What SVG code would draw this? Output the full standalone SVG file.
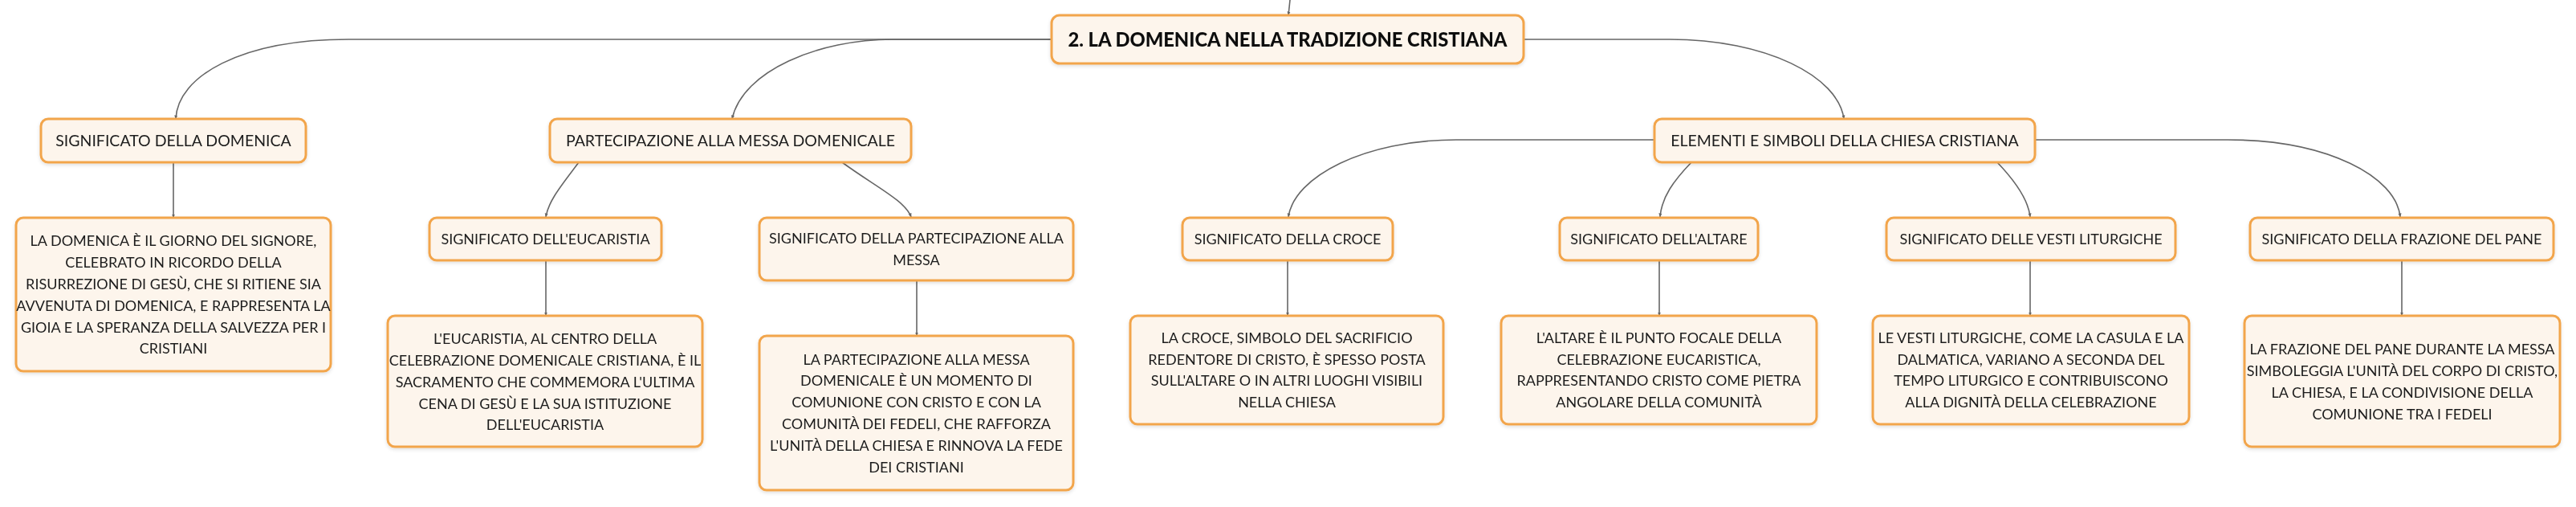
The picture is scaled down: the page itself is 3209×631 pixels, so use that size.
<svg xmlns="http://www.w3.org/2000/svg" width="3209" height="631" viewBox="0 0 3209 631">
<style>
.box{fill:#fdf5ec;stroke:#f2a54c;stroke-width:3}
.t{font-family:Lato,"Noto Sans","Liberation Sans",sans-serif;font-size:18px;fill:#1d1d1d;text-anchor:middle}
.t1{font-family:Lato,"Noto Sans","Liberation Sans",sans-serif;font-size:19.5px;fill:#1d1d1d;text-anchor:middle}
.tb{font-family:Lato,"Noto Sans","Liberation Sans",sans-serif;font-size:25px;font-weight:900;fill:#111;text-anchor:middle}
.c{fill:none;stroke:#666;stroke-width:1.6;marker-end:url(#a)}
</style>
<defs>
<marker id="a" viewBox="0 0 10 10" refX="9" refY="5" markerWidth="5" markerHeight="5" markerUnits="userSpaceOnUse" orient="auto"><path d="M0,1 L10,5 L0,9 z" fill="#666"/></marker>
<filter id="s" x="-5%" y="-10%" width="110%" height="125%"><feDropShadow dx="0" dy="2" stdDeviation="2" flood-color="#000" flood-opacity="0.12"/></filter>
</defs>
<rect width="3209" height="631" fill="#fff"/>
<g id="connectors">
<path class="c" d="M1607,0 L1605,19"/>
<path class="c" d="M1310,49 H434 C300,49 221,95 219,148"/>
<path class="c" d="M1310,49 H1112 C1020,49 925,88 912,148"/>
<path class="c" d="M1898,49 H2080 C2200,49 2290,95 2297,148"/>
<path class="c" d="M216,202 V271"/>
<path class="c" d="M721,202 C700,230 683,250 680,270"/>
<path class="c" d="M1049,202 C1090,232 1128,250 1135,270"/>
<path class="c" d="M680,324 V393"/>
<path class="c" d="M1142,349 V418"/>
<path class="c" d="M2061,174 H1814 C1700,174 1612,220 1605,270"/>
<path class="c" d="M2107,202 C2085,225 2070,245 2068,270"/>
<path class="c" d="M2488,202 C2510,225 2527,250 2529,270"/>
<path class="c" d="M2535,174 H2775 C2900,174 2985,220 2990,270"/>
<path class="c" d="M1604,324 V393"/>
<path class="c" d="M2067,324 V393"/>
<path class="c" d="M2529,324 V393"/>
<path class="c" d="M2992,324 V393"/>
</g>
<g id="root" filter="url(#s)">
<rect class="box" x="1310" y="19" width="588" height="60" rx="10"/>
<text class="tb" x="1604" y="58" textLength="547" lengthAdjust="spacingAndGlyphs">2. LA DOMENICA NELLA TRADIZIONE CRISTIANA</text>
</g>
<g id="n-domenica" filter="url(#s)">
<rect class="box" x="51" y="148" width="330" height="54" rx="9"/>
<text class="t1" x="216" y="182">SIGNIFICATO DELLA DOMENICA</text>
</g>
<g id="n-partecipazione" filter="url(#s)">
<rect class="box" x="685" y="148" width="450" height="54" rx="9"/>
<text class="t1" x="910" y="182">PARTECIPAZIONE ALLA MESSA DOMENICALE</text>
</g>
<g id="n-elementi" filter="url(#s)">
<rect class="box" x="2061" y="148" width="474" height="54" rx="9"/>
<text class="t1" x="2298" y="182">ELEMENTI E SIMBOLI DELLA CHIESA CRISTIANA</text>
</g>
<g id="n-domenica-text" filter="url(#s)">
<rect class="box" x="20" y="271" width="392" height="191" rx="9"/>
<text class="t" x="216" y="305.5">LA DOMENICA È IL GIORNO DEL SIGNORE,</text>
<text class="t" x="216" y="332.5">CELEBRATO IN RICORDO DELLA</text>
<text class="t" x="216" y="359.5">RISURREZIONE DI GESÙ, CHE SI RITIENE SIA</text>
<text class="t" x="216" y="386.5">AVVENUTA DI DOMENICA, E RAPPRESENTA LA</text>
<text class="t" x="216" y="413.5">GIOIA E LA SPERANZA DELLA SALVEZZA PER I</text>
<text class="t" x="216" y="440">CRISTIANI</text>
</g>
<g id="n-eucaristia" filter="url(#s)">
<rect class="box" x="535" y="271" width="289" height="53" rx="9"/>
<text class="t" x="679.5" y="303.5">SIGNIFICATO DELL'EUCARISTIA</text>
</g>
<g id="n-eucaristia-text" filter="url(#s)">
<rect class="box" x="483" y="393" width="392" height="163" rx="9"/>
<text class="t" x="679" y="427.5">L'EUCARISTIA, AL CENTRO DELLA</text>
<text class="t" x="679" y="454.5">CELEBRAZIONE DOMENICALE CRISTIANA, È IL</text>
<text class="t" x="679" y="481.5">SACRAMENTO CHE COMMEMORA L'ULTIMA</text>
<text class="t" x="679" y="508.5">CENA DI GESÙ E LA SUA ISTITUZIONE</text>
<text class="t" x="679" y="535">DELL'EUCARISTIA</text>
</g>
<g id="n-sigpart" filter="url(#s)">
<rect class="box" x="946" y="271" width="391" height="78" rx="9"/>
<text class="t" x="1141.5" y="302.5">SIGNIFICATO DELLA PARTECIPAZIONE ALLA</text>
<text class="t" x="1141.5" y="329.5">MESSA</text>
</g>
<g id="n-sigpart-text" filter="url(#s)">
<rect class="box" x="946" y="418" width="391" height="192" rx="9"/>
<text class="t" x="1141.5" y="453.5">LA PARTECIPAZIONE ALLA MESSA</text>
<text class="t" x="1141.5" y="480">DOMENICALE È UN MOMENTO DI</text>
<text class="t" x="1141.5" y="507">COMUNIONE CON CRISTO E CON LA</text>
<text class="t" x="1141.5" y="534">COMUNITÀ DEI FEDELI, CHE RAFFORZA</text>
<text class="t" x="1141.5" y="561">L'UNITÀ DELLA CHIESA E RINNOVA LA FEDE</text>
<text class="t" x="1141.5" y="588">DEI CRISTIANI</text>
</g>
<g id="n-croce" filter="url(#s)">
<rect class="box" x="1473" y="271" width="262" height="53" rx="9"/>
<text class="t" x="1604" y="303.5">SIGNIFICATO DELLA CROCE</text>
</g>
<g id="n-croce-text" filter="url(#s)">
<rect class="box" x="1408" y="393" width="390" height="135" rx="9"/>
<text class="t" x="1603" y="426.5">LA CROCE, SIMBOLO DEL SACRIFICIO</text>
<text class="t" x="1603" y="453.5">REDENTORE DI CRISTO, È SPESSO POSTA</text>
<text class="t" x="1603" y="480">SULL'ALTARE O IN ALTRI LUOGHI VISIBILI</text>
<text class="t" x="1603" y="507">NELLA CHIESA</text>
</g>
<g id="n-altare" filter="url(#s)">
<rect class="box" x="1943" y="271" width="247" height="53" rx="9"/>
<text class="t" x="2066.5" y="303.5">SIGNIFICATO DELL'ALTARE</text>
</g>
<g id="n-altare-text" filter="url(#s)">
<rect class="box" x="1870" y="393" width="393" height="135" rx="9"/>
<text class="t" x="2066.5" y="426.5">L'ALTARE È IL PUNTO FOCALE DELLA</text>
<text class="t" x="2066.5" y="453.5">CELEBRAZIONE EUCARISTICA,</text>
<text class="t" x="2066.5" y="480">RAPPRESENTANDO CRISTO COME PIETRA</text>
<text class="t" x="2066.5" y="507">ANGOLARE DELLA COMUNITÀ</text>
</g>
<g id="n-vesti" filter="url(#s)">
<rect class="box" x="2350" y="271" width="360" height="53" rx="9"/>
<text class="t" x="2530" y="303.5">SIGNIFICATO DELLE VESTI LITURGICHE</text>
</g>
<g id="n-vesti-text" filter="url(#s)">
<rect class="box" x="2333" y="393" width="394" height="135" rx="9"/>
<text class="t" x="2530" y="426.5">LE VESTI LITURGICHE, COME LA CASULA E LA</text>
<text class="t" x="2530" y="453.5">DALMATICA, VARIANO A SECONDA DEL</text>
<text class="t" x="2530" y="480">TEMPO LITURGICO E CONTRIBUISCONO</text>
<text class="t" x="2530" y="507">ALLA DIGNITÀ DELLA CELEBRAZIONE</text>
</g>
<g id="n-frazione" filter="url(#s)">
<rect class="box" x="2803" y="271" width="378" height="53" rx="9"/>
<text class="t" x="2992" y="303.5">SIGNIFICATO DELLA FRAZIONE DEL PANE</text>
</g>
<g id="n-frazione-text" filter="url(#s)">
<rect class="box" x="2796" y="393" width="393" height="163" rx="9"/>
<text class="t" x="2992.5" y="440.5">LA FRAZIONE DEL PANE DURANTE LA MESSA</text>
<text class="t" x="2992.5" y="467.5">SIMBOLEGGIA L'UNITÀ DEL CORPO DI CRISTO,</text>
<text class="t" x="2992.5" y="494.5">LA CHIESA, E LA CONDIVISIONE DELLA</text>
<text class="t" x="2992.5" y="521.5">COMUNIONE TRA I FEDELI</text>
</g>
</svg>
